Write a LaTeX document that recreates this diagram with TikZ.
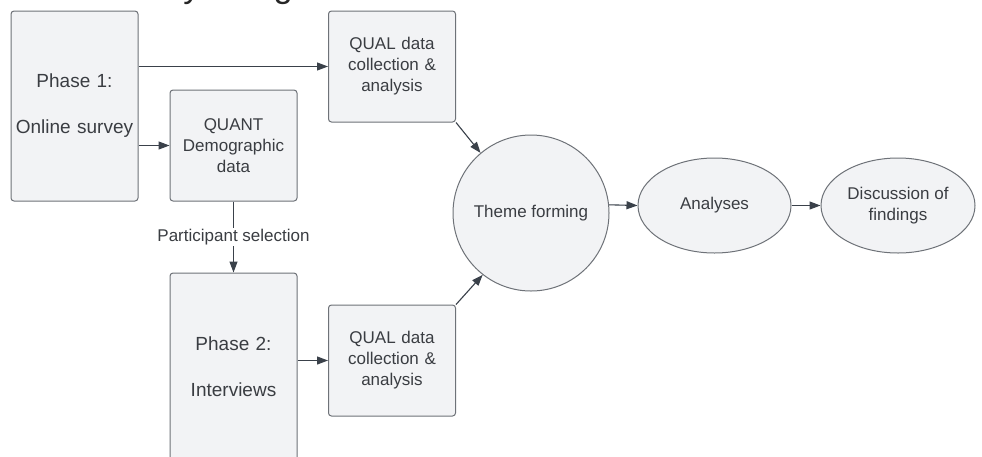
\documentclass[tikz,border=0pt]{standalone}
\usepackage{fontspec}
\setmainfont{Liberation Sans}
\usetikzlibrary{arrows.meta,shapes.geometric}
\definecolor{boxfill}{HTML}{F2F3F5}
\definecolor{boxline}{HTML}{6E7278}
\definecolor{txt}{HTML}{3A3D42}
\definecolor{arr}{HTML}{3A414A}
\tikzset{
  phasebox/.style={draw=boxline, fill=boxfill, line width=1pt, rounded corners=3pt,
    minimum width=127pt, text width=124pt, align=center, inner sep=0pt,
    text=txt, font=\fontsize{19}{23}\selectfont},
  databox/.style={phasebox, minimum height=111pt, font=\fontsize{17}{21}\selectfont},
  roundbox/.style={draw=boxline, fill=boxfill, line width=1pt, align=center,
    inner sep=0pt, text=txt, font=\fontsize{17}{21}\selectfont},
  flow/.style={draw=arr, line width=1.1pt, -{Triangle[length=11pt,width=8pt]}}
}
\begin{document}
\begin{tikzpicture}[x=1pt, y=-1pt]
    \useasboundingbox (0, 0) rectangle (982, 456);
    \clip (0, 0) rectangle (982, 456);
    \fill [white] (0, 0) rectangle (982, 456);
    \node [anchor=base west, inner sep=0pt, font=\fontsize{34.5}{40}\selectfont, text=black!85] (title) at (28, -3) {Case study design};
    % boxes
    \node [phasebox, minimum height=190pt] (phase1) at (74.5, 106) {Phase 1:\\[23pt]Online survey};
    \node [databox] (quant) at (233.5, 145.5) {QUANT\\Demographic\\data};
    \node [databox] (qualA) at (392, 66.5) {QUAL data\\collection \&\\analysis};
    \node [phasebox, minimum height=188pt] (phase2) at (233.5, 367) {Phase 2:\\[23pt]Interviews};
    \node [databox] (qualB) at (392, 360.5) {QUAL data\\collection \&\\analysis};
    \node [roundbox, circle, minimum size=156pt] (theme) at (531, 213) {Theme forming};
    \node [roundbox, ellipse, minimum width=153pt, minimum height=95pt] (analyses) at (714.5, 205.5) {Analyses};
    \node [roundbox, ellipse, minimum width=154pt, minimum height=95pt] (discussion) at (898, 205.5) {Discussion of\\findings};
    % arrows
    \draw [flow] (phase1.east |- qualA.west) -- (qualA.west);
    \draw [flow] (phase1.east |- quant.west) -- (quant.west);
    \draw [flow] (quant.south) -- node [fill=white, text=txt, inner sep=1pt, font=\fontsize{17}{21}\selectfont] (select) {Participant selection} (phase2.north);
    \draw [flow] (phase2.east |- qualB.west) -- (qualB.west);
    \draw [flow] (qualA.south east) -- (theme.130);
    \draw [flow] (qualB.north east) -- (theme.232);
    \draw [flow] (theme.6) -- (analyses.west);
    \draw [flow] (analyses.east) -- (discussion.west);
\end{tikzpicture}
\end{document}
